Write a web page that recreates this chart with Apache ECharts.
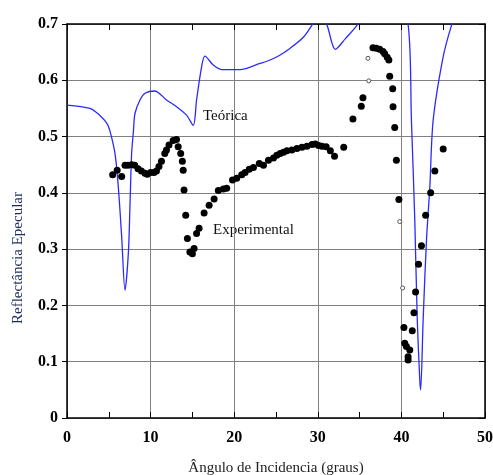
<!DOCTYPE html>
<html>
<head>
<meta charset="utf-8">
<script src="https://cdn.jsdelivr.net/npm/echarts@6/dist/echarts.min.js"></script>
<style>
html,body{margin:0;padding:0;background:#fff;}
#chart{width:493px;height:475px;}
</style>
</head>
<body>
<div id="chart"></div>
<script>
// Theoretical curve (angle in degrees, reflectance)
var theoX = [0, 2.75, 3.9, 4.75, 5.1, 5.74, 6.14, 6.54, 6.94, 7.34, 7.54, 7.73, 7.95, 8.13, 8.73, 9.33, 10.5, 11.9, 13.1, 14.3, 15.1, 15.5, 16.1, 16.5, 17.5, 18.5, 20.7, 23.1, 24.3, 25.5, 26.7, 28.3, 29.3, 30.2, 31.1, 32.1, 33.3, 34.7, 36.5, 39.0, 40.8, 41.2, 41.6, 41.9, 42.2, 42.3, 42.6, 43.0, 43.4, 43.8, 45.0, 46.0, 47.0];
var theoY = [0.556, 0.55, 0.538, 0.524, 0.512, 0.47, 0.41, 0.322, 0.227, 0.293, 0.381, 0.47, 0.51, 0.541, 0.565, 0.577, 0.581, 0.565, 0.553, 0.538, 0.52, 0.565, 0.624, 0.643, 0.627, 0.619, 0.619, 0.63, 0.636, 0.645, 0.657, 0.677, 0.698, 0.72, 0.698, 0.655, 0.674, 0.698, 0.74, 0.74, 0.7, 0.529, 0.352, 0.174, 0.067, 0.05, 0.174, 0.316, 0.41, 0.529, 0.642, 0.698, 0.74];

// Experimental points
var expX = [5.46, 6.0, 6.54, 6.94, 7.3, 7.73, 8.1, 8.5, 8.9, 9.33, 9.6, 10.0, 10.4, 10.7, 11.0, 11.3, 11.7, 11.9, 12.2, 12.7, 13.1, 13.3, 13.6, 13.8, 13.9, 14.0, 14.2, 14.4, 14.7, 15.0, 15.2, 15.5, 15.8, 16.4, 17.0, 17.6, 18.1, 18.7, 19.1, 19.8, 20.3, 20.9, 21.3, 21.8, 22.3, 23.0, 23.5, 24.1, 24.7, 25.1, 25.5, 25.9, 26.3, 26.9, 27.5, 28.1, 28.7, 29.3, 29.7, 30.1, 30.5, 31.0, 31.5, 32.0, 33.1, 34.2, 35.2, 35.4, 36.6, 37.0, 37.4, 37.8, 38.0, 38.3, 38.5, 38.6, 38.96, 39.0, 39.2, 39.4, 39.7, 40.3, 40.4, 40.6, 41.0, 40.8, 40.8, 41.3, 41.5, 41.7, 42.05, 42.4, 42.9, 43.5, 44.0, 45.0];
var expY = [0.432, 0.44, 0.429, 0.449, 0.449, 0.45, 0.449, 0.443, 0.439, 0.435, 0.433, 0.436, 0.436, 0.439, 0.447, 0.456, 0.47, 0.476, 0.485, 0.493, 0.495, 0.482, 0.47, 0.456, 0.44, 0.405, 0.36, 0.319, 0.295, 0.292, 0.301, 0.328, 0.337, 0.364, 0.378, 0.389, 0.404, 0.407, 0.408, 0.423, 0.426, 0.432, 0.436, 0.442, 0.445, 0.452, 0.449, 0.458, 0.462, 0.467, 0.47, 0.472, 0.475, 0.476, 0.479, 0.481, 0.483, 0.486, 0.487, 0.484, 0.483, 0.482, 0.475, 0.465, 0.481, 0.531, 0.554, 0.569, 0.658, 0.657, 0.655, 0.651, 0.647, 0.641, 0.636, 0.607, 0.585, 0.553, 0.516, 0.458, 0.388, 0.161, 0.133, 0.127, 0.121, 0.109, 0.103, 0.155, 0.187, 0.224, 0.273, 0.306, 0.36, 0.4, 0.439, 0.478];

// Faint (small) experimental points
var faintX = [36.0, 36.1, 39.8, 40.15];
var faintY = [0.639, 0.599, 0.349, 0.231];

var xTicks = [0, 10, 20, 30, 40, 50];
var yTicks = [0, 0.1, 0.2, 0.3, 0.4, 0.5, 0.6, 0.7];

function pairs(xs, ys){ return xs.map(function(x,i){ return [x, ys[i]]; }); }

var chart = echarts.init(document.getElementById('chart'));
var serif = '"Liberation Serif", "Times New Roman", serif';
var axisCommon = {
  type: 'value', min: 0, max: 50, interval: 10,
  axisLine: { show: true, onZero: false, lineStyle: { color: '#000', width: 1.5 } }
};
chart.setOption({
  animation: false,
  backgroundColor: '#fff',
  grid: { left: 67, right: 8, top: 24, bottom: 57, containLabel: false, outerBoundsMode: 'none' },
  xAxis: [
    Object.assign({}, axisCommon, {
      position: 'bottom',
      name: 'Ângulo de Incidencia (graus)',
      nameLocation: 'middle', nameGap: 43,
      nameTextStyle: { fontFamily: serif, fontSize: 15, color: '#222' },
      axisTick: { show: true, inside: true, length: 6, lineStyle: { color: '#000' } },
      minorTick: { show: true, splitNumber: 2, length: 6, lineStyle: { color: '#000' } },
      axisLabel: { fontFamily: serif, fontSize: 16, fontWeight: 'bold', color: '#000', margin: 12,
        formatter: function(v){ return xTicks.indexOf(v) >= 0 ? String(v) : ''; } },
      splitLine: { show: true, lineStyle: { color: '#808080', width: 1 } }
    }),
    Object.assign({}, axisCommon, {
      position: 'top',
      axisTick: { show: true, inside: true, length: 6, lineStyle: { color: '#000' } },
      minorTick: { show: true, splitNumber: 2, length: 6, lineStyle: { color: '#000' } },
      axisLabel: { show: false },
      splitLine: { show: false }
    })
  ],
  yAxis: [
    {
      type: 'value', min: 0, max: 0.7, interval: 0.1, position: 'left',
      axisLine: { show: true, onZero: false, lineStyle: { color: '#000', width: 1.5 } },
      axisTick: { show: true, inside: false, length: 5, lineStyle: { color: '#000' } },
      axisLabel: { fontFamily: serif, fontSize: 16, fontWeight: 'bold', color: '#000', margin: 9,
        formatter: function(v){ var r = Math.round(v*10)/10; return r === 0 ? '0' : r.toFixed(1); } },
      splitLine: { show: true, lineStyle: { color: '#808080', width: 1 } }
    },
    {
      type: 'value', min: 0, max: 0.7, interval: 0.1, position: 'right',
      axisLine: { show: true, onZero: false, lineStyle: { color: '#000', width: 1.5 } },
      axisTick: { show: true, inside: true, length: 6, lineStyle: { color: '#000' } },
      axisLabel: { show: false },
      splitLine: { show: false }
    }
  ],
  graphic: [
    { type: 'text', left: 203, top: 109, style: { text: 'Teórica', font: '15px ' + serif, fill: '#111' } },
    { type: 'text', left: 213, top: 223, style: { text: 'Experimental', font: '15px ' + serif, fill: '#111' } },
    { type: 'text', x: 18, y: 258, rotation: Math.PI/2, style: { text: 'Reflectância Epecular', font: '15px ' + serif, fill: '#1c2b5e', align: 'center', verticalAlign: 'middle' } }
  ],
  series: [
    {
      name: 'Teórica', type: 'line', xAxisIndex: 0, yAxisIndex: 0,
      data: pairs(theoX, theoY), showSymbol: false, symbol: 'none', smooth: 0.3,
      clip: true, lineStyle: { color: '#2a2aff', width: 1.3 }, z: 3
    },
    {
      name: 'Experimental', type: 'scatter', xAxisIndex: 0, yAxisIndex: 0,
      data: pairs(expX, expY), symbol: 'circle', symbolSize: 7,
      itemStyle: { color: '#000', opacity: 1 }, z: 4
    },
    {
      name: 'Experimental (fraco)', type: 'scatter', xAxisIndex: 0, yAxisIndex: 0,
      data: pairs(faintX, faintY), symbol: 'circle', symbolSize: 4,
      itemStyle: { color: '#fff', borderColor: '#555', borderWidth: 1, opacity: 1 }, z: 4
    }
  ]
});
</script>
</body>
</html>
